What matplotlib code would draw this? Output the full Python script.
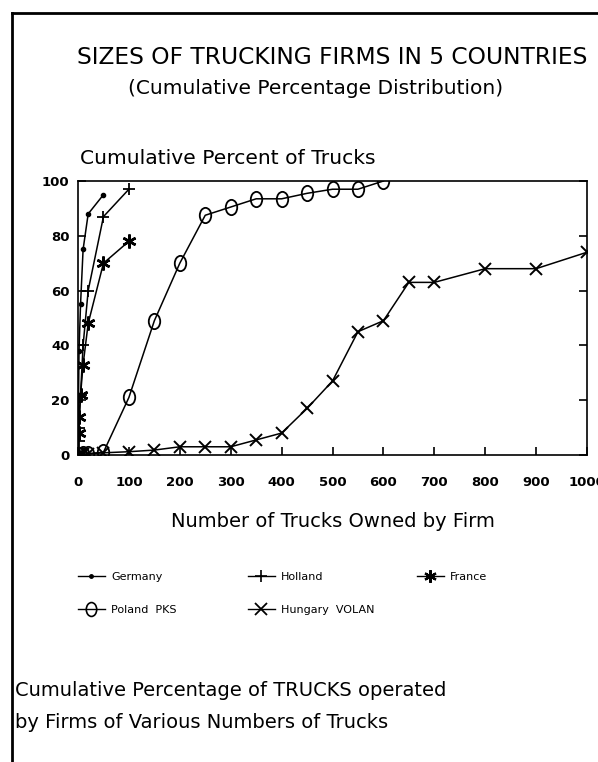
"""
Sizes of trucking firms in 5 countries
Cumulative percentage distribution of trucks by firm size
"""

import matplotlib
matplotlib.use("Agg")
import matplotlib.pyplot as plt
from matplotlib.lines import Line2D
from matplotlib.path import Path

# ------------------------
# Data
# ------------------------
germany_x = [0, 1, 2, 5, 10, 20, 50]
germany_y = [0, 20, 38, 55, 75, 88, 95]

holland_x = [0, 1, 2, 5, 10, 20, 50, 100]
holland_y = [0, 5, 10, 22, 40, 60, 87, 97]

france_x = [0, 1, 2, 5, 10, 20, 50, 100]
france_y = [0, 8, 14, 22, 33, 48, 70, 78]

poland_x = [0, 5, 10, 20, 50, 100, 150, 200, 250, 300, 350, 400, 450, 500, 550, 600]
poland_y = [0, 0.1, 0.2, 0.5, 1, 21, 49, 70, 87.5, 90.5, 93.5, 93.5, 95.5, 97, 97, 100]

hungary_x = [0, 5, 10, 20, 50, 100, 150, 200, 250, 300, 350, 400, 450,
             500, 550, 600, 650, 700, 800, 900, 1000]
hungary_y = [0, 0.1, 0.2, 0.4, 0.8, 1.2, 1.8, 3, 3, 3, 5.5, 8, 17,
             27, 45, 49, 63, 63, 68, 68, 74]

x_ticks = [0, 100, 200, 300, 400, 500, 600, 700, 800, 900, 1000]
y_ticks = [0, 20, 40, 60, 80, 100]

# ------------------------
# Figure setup
# ------------------------
plt.rcParams["font.family"] = ["DejaVu Sans"]

W, H = 598, 762
fig = plt.figure(figsize=(W / 100, H / 100), dpi=100)
ax = fig.add_axes([78 / W, 1 - 455 / H, (587 - 78) / W, (455 - 181) / H])

# tall ellipse marker for Poland (plotter circles are a bit squashed)
circ = Path.unit_circle()
ellipse = Path(circ.vertices * [0.75, 1.0], circ.codes)

lw = 1.1
ax.plot(germany_x, germany_y, color="black", lw=lw, marker="o", ms=3)
ax.plot(holland_x, holland_y, color="black", lw=lw, marker="+", ms=9, mew=1.3)
ax.plot(france_x, france_y, color="black", lw=lw, marker=(6, 2, 0), ms=10, mew=1.8)
ax.plot(poland_x, poland_y, color="black", lw=lw, marker=ellipse, ms=11,
        mfc="none", mew=1.3)
ax.plot(hungary_x, hungary_y, color="black", lw=lw, marker="x", ms=9, mew=1.4)

ax.set_xlim(0, 1000)
ax.set_ylim(0, 100)
ax.set_xticks(x_ticks)
ax.set_yticks(y_ticks)
ax.tick_params(direction="in", length=6, width=1.2, right=True, pad=6,
               labelsize=9.5)
ax.tick_params(axis="x", pad=15)
for lab in ax.get_xticklabels() + ax.get_yticklabels():
    lab.set_fontweight("bold")
for s in ax.spines.values():
    s.set_linewidth(1.2)

ax.set_xlabel("Number of Trucks Owned by Firm", fontsize=14, labelpad=17)

# ------------------------
# Texts
# ------------------------
fig.text(332 / W, 1 - 58 / H, "SIZES OF TRUCKING FIRMS IN 5 COUNTRIES",
         ha="center", va="center", fontsize=16.8)
fig.text(316 / W, 1 - 89 / H, "(Cumulative Percentage Distribution)",
         ha="center", va="center", fontsize=14.5)
fig.text(80 / W, 1 - 159 / H, "Cumulative Percent of Trucks",
         ha="left", va="center", fontsize=14.6)
fig.text(15 / W, 1 - 690 / H, "Cumulative Percentage of TRUCKS operated",
         ha="left", va="center", fontsize=14)
fig.text(15 / W, 1 - 722 / H, "by Firms of Various Numbers of Trucks",
         ha="left", va="center", fontsize=14)

# outer frame (top and left edges)
fig.add_artist(Line2D([12 / W, 1], [1 - 13 / H, 1 - 13 / H], color="black", lw=2))
fig.add_artist(Line2D([12 / W, 12 / W], [0, 1 - 13 / H], color="black", lw=2))

# ------------------------
# Legend (one entry per slot, like the plotter layout)
# ------------------------
legend_items = [
    ("Germany", dict(marker="o", ms=2.5), 78, 577),
    ("Holland", dict(marker="+", ms=9, mew=1.2), 248, 577),
    ("France", dict(marker=(6, 2, 0), ms=9, mew=1.6), 417, 577),
    ("Poland  PKS", dict(marker=ellipse, ms=10, mfc="none", mew=1.2), 78, 610),
    ("Hungary  VOLAN", dict(marker="x", ms=8, mew=1.3), 248, 610),
]
for label, style, px, py in legend_items:
    h = Line2D([], [], color="black", lw=1, **style)
    fig.legend([h], [label], loc="center left",
               bbox_to_anchor=(px / W, 1 - py / H), frameon=False,
               fontsize=8, handlelength=2.4, handletextpad=0.6,
               borderpad=0, borderaxespad=0)

fig.savefig("out.png", dpi=100)
